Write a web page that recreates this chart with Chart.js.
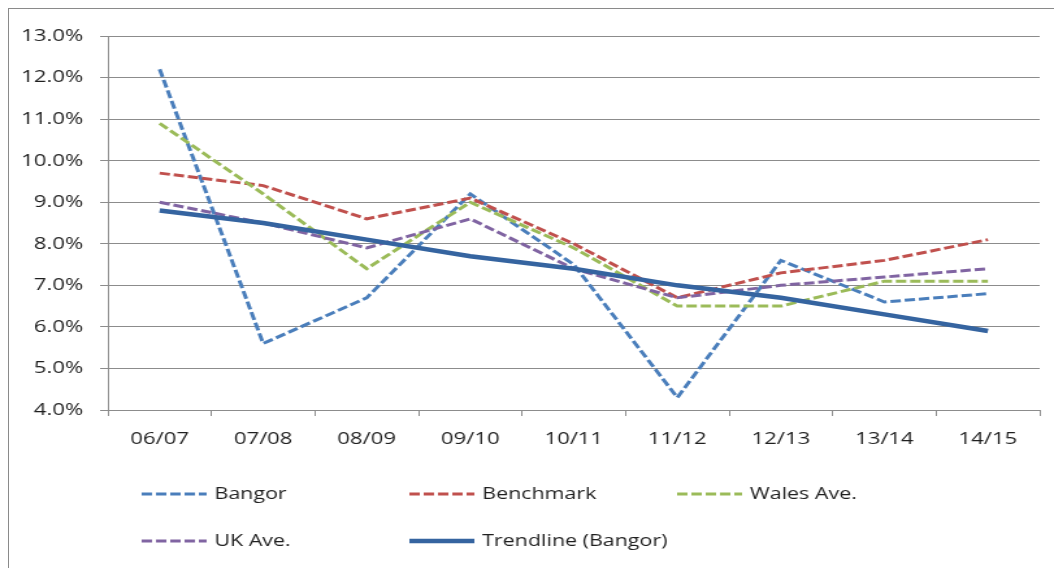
<!DOCTYPE html>
<html>
<head>
<meta charset="utf-8">
<script src="https://cdn.jsdelivr.net/npm/chart.js@4.4.0/dist/chart.umd.min.js"></script>
<style>
  html, body { margin: 0; padding: 0; background: #fff; overflow: hidden; }
  #marco { position: absolute; left: 8px; top: 8px; width: 1100px; height: 600px;
           border-left: 1px solid #8a8a8a; border-top: 1px solid #8a8a8a; }
  /* the source picture is stretched sideways, so the canvas is too */
  #caja { position: absolute; left: 0; top: 0; width: 811px; height: 568px;
          transform: scaleX(1.2996); transform-origin: 0 0; }
</style>
</head>
<body>
<div id="marco"></div>
<div id="caja"><canvas id="grafico"></canvas></div>
<script>
var anios = ["06/07", "07/08", "08/09", "09/10", "10/11", "11/12", "12/13", "13/14", "14/15"];
var bangor = [12.2, 5.6, 6.7, 9.2, 7.5, 4.3, 7.6, 6.6, 6.8];
var benchmark = [9.7, 9.4, 8.6, 9.1, 8.0, 6.7, 7.3, 7.6, 8.1];
var gales = [10.9, 9.2, 7.4, 9.0, 7.9, 6.5, 6.5, 7.1, 7.1];
var reinoUnido = [9.0, 8.5, 7.9, 8.6, 7.4, 6.7, 7.0, 7.2, 7.4];
var tendencia = [8.8, 8.5, 8.1, 7.7, 7.4, 7.0, 6.7, 6.3, 5.9];

var gris = '#8c8c8c';
var texto = '#1f1f1f';
var raya = [8, 3];

Chart.defaults.font.family = '"Open Sans", sans-serif';
Chart.defaults.font.size = 17;

// legend laid out in fixed columns like the Excel one
var leyenda = {
  id: 'leyenda',
  afterDraw: function (chart) {
    var ctx = chart.ctx;
    var cols = [109, 315, 521];
    var filas = [494, 541];
    chart.data.datasets.forEach(function (ds, i) {
      var x = cols[i % 3], y = filas[Math.floor(i / 3)];
      ctx.save();
      ctx.strokeStyle = ds.borderColor;
      ctx.lineWidth = ds.borderWidth;
      ctx.lineCap = 'butt';
      ctx.setLineDash(ds.borderDash || []);
      ctx.beginPath();
      ctx.moveTo(x, y);
      ctx.lineTo(x + 50, y);
      ctx.stroke();
      ctx.setLineDash([]);
      ctx.fillStyle = texto;
      ctx.font = '16.5px "Open Sans", sans-serif';
      ctx.textBaseline = 'middle';
      ctx.fillText(ds.label, x + 56, y);
      ctx.restore();
    });
  }
};

var ctx = document.getElementById("grafico");

var lineas = new Chart(ctx, {
  type: 'line',
  data: {
    labels: anios,
    datasets: [
      { label: 'Bangor', data: bangor, borderColor: '#4a7ebb', borderWidth: 3, borderDash: raya, order: 4 },
      { label: 'Benchmark', data: benchmark, borderColor: '#c0504d', borderWidth: 3, borderDash: raya, order: 3 },
      { label: 'Wales Ave.', data: gales, borderColor: '#9bbb59', borderWidth: 3, borderDash: raya, order: 2 },
      { label: 'UK Ave.', data: reinoUnido, borderColor: '#8064a2', borderWidth: 3, borderDash: raya, order: 1 },
      { label: 'Trendline (Bangor)', data: tendencia, borderColor: '#3564a0', borderWidth: 4.5, order: 0 }
    ]
  },
  options: {
    responsive: true,
    maintainAspectRatio: false,
    animation: false,
    layout: { padding: { left: 0, right: 11, top: 36, bottom: 0 } },
    plugins: { legend: { display: false }, tooltip: { enabled: false } },
    elements: {
      point: { radius: 0 },
      line: { tension: 0, borderCapStyle: 'butt', fill: false }
    },
    scales: {
      x: {
        offset: true,
        grid: { offset: true, drawOnChartArea: false, tickLength: 6, color: gris },
        border: { color: gris },
        ticks: { padding: 13, color: texto, maxRotation: 0 },
        afterFit: function (s) { s.height = 158; }
      },
      y: {
        min: 4,
        max: 13,
        grid: { color: gris, tickLength: 6 },
        border: { color: gris },
        ticks: {
          stepSize: 1,
          padding: 13,
          color: texto,
          callback: function (v) { return v.toFixed(1) + '%'; }
        },
        afterFit: function (s) { s.width = 83; }
      }
    }
  },
  plugins: [leyenda]
});
</script>
</body>
</html>
